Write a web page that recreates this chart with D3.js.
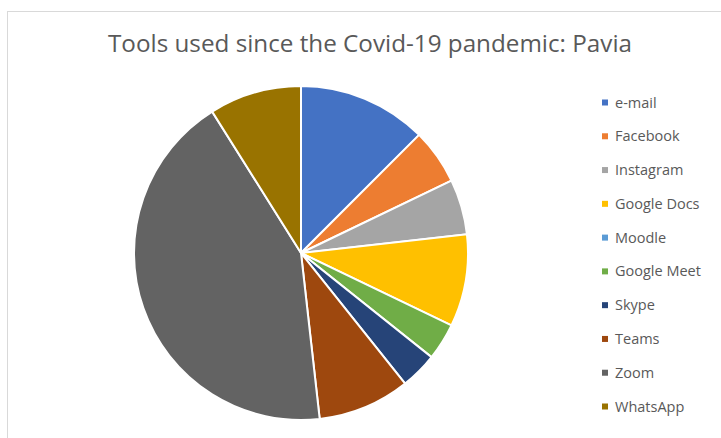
<!DOCTYPE html>
<html lang="en">
<head>
<meta charset="utf-8">
<title>Tools used since the Covid-19 pandemic: Pavia</title>
<script src="https://d3js.org/d3.v7.min.js"></script>
<style>
  body { margin: 0; background: #fff; }
  text { font-family: "Open Sans", "Noto Sans", sans-serif; fill: #595959; }
</style>
</head>
<body>
<script>
var tools = ["e-mail", "Facebook", "Instagram", "Google Docs", "Moodle", "Google Meet", "Skype", "Teams", "Zoom", "WhatsApp"];
var counts = [7, 3, 3, 5, 0, 2, 2, 5, 24, 5];
var colors = ["#4472C4", "#ED7D31", "#A5A5A5", "#FFC000", "#5B9BD5", "#70AD47", "#264478", "#9E480E", "#636363", "#997300"];

var w = 721, h = 438;
var svg = d3.select("body").append("svg")
  .attr("width", w)
  .attr("height", h);

// chart frame
svg.append("rect")
  .attr("x", 7.5).attr("y", 11.5)
  .attr("width", 760).attr("height", 460)
  .attr("fill", "#fff")
  .attr("stroke", "#d9d9d9");

svg.append("text")
  .attr("x", 370).attr("y", 52)
  .attr("text-anchor", "middle")
  .attr("textLength", 524)
  .attr("lengthAdjust", "spacingAndGlyphs")
  .style("font-size", "23.5px")
  .text("Tools used since the Covid-19 pandemic: Pavia");

var data = tools.map(function(t, i) { return {name: t, value: counts[i]}; });

var color = d3.scaleOrdinal().domain(tools).range(colors);

var pie = d3.pie().sort(null).value(function(d) { return d.value; });
var arc = d3.arc().innerRadius(0).outerRadius(167);

var g = svg.append("g").attr("transform", "translate(301,253)");
g.selectAll("path")
  .data(pie(data).filter(function(d) { return d.data.value > 0; }))
  .enter()
  .append("path")
  .attr("d", arc)
  .attr("fill", function(d) { return color(d.data.name); })
  .attr("stroke", "#fff")
  .attr("stroke-width", 2);

var y = d3.scalePoint().domain(tools).range([102.5, 406.5]);

var legend = svg.selectAll(".leg")
  .data(tools)
  .enter()
  .append("g")
  .attr("class", "leg")
  .attr("transform", function(d) { return "translate(602," + y(d) + ")"; });

legend.append("rect")
  .attr("x", 0).attr("y", -3)
  .attr("width", 6).attr("height", 6)
  .attr("fill", function(d) { return color(d); });

legend.append("text")
  .attr("x", 13).attr("y", 5)
  .style("font-size", "14.5px")
  .text(function(d) { return d; });
</script>
</body>
</html>
